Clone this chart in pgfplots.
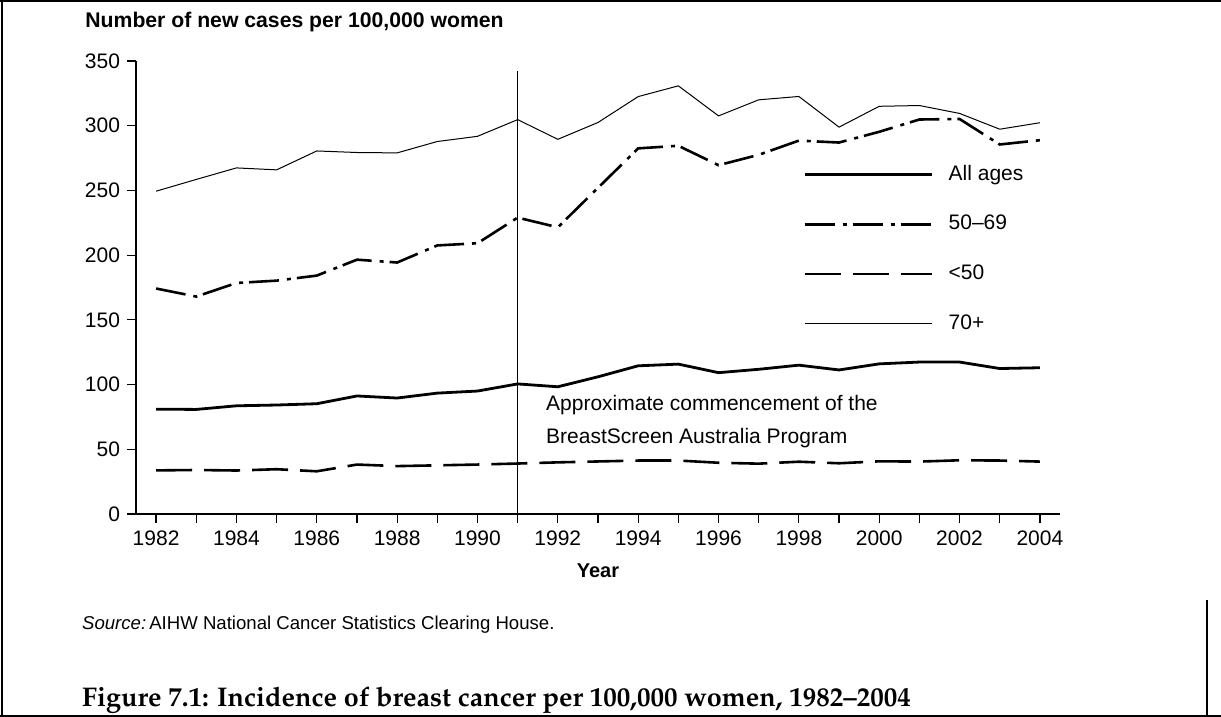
\documentclass[border=0pt]{standalone}
\usepackage[T1]{fontenc}
\usepackage{fontspec}
\setmainfont{Liberation Sans}
\usepackage{pgfplots}
\usepackage{pgfplotstable}
\pgfplotsset{compat=1.18}

% Incidence of breast cancer per 100,000 women, by age group
\pgfplotstableread{
year allages a5069 under50 over70
1982  81.0 174.2 33.7 249.4
1983  80.8 168.0 34.0 258.5
1984  83.6 178.5 33.6 267.4
1985  84.2 180.3 34.6 265.9
1986  85.2 184.2 33.0 280.5
1987  91.2 196.5 38.2 279.3
1988  89.6 194.3 37.0 279.0
1989  93.4 207.5 37.6 287.8
1990  95.0 209.2 38.2 291.8
1991 100.5 229.0 39.0 304.7
1992  98.3 221.5 39.9 289.5
1993 106.0 252.0 40.6 302.5
1994 114.5 282.5 41.3 322.5
1995 115.8 284.5 41.3 330.8
1996 109.2 269.5 39.6 307.6
1997 111.8 277.5 38.9 320.0
1998 115.0 288.5 40.4 322.6
1999 111.3 287.0 39.2 298.9
2000 116.0 295.3 40.7 315.0
2001 117.4 304.8 40.5 315.6
2002 117.4 305.2 41.5 309.5
2003 112.4 285.5 41.3 297.3
2004 113.0 288.8 40.5 302.3
}\incidence

\begin{document}
\begin{tikzpicture}[x=0.5pt,y=0.5pt]
\useasboundingbox (0,0) rectangle (1221,-717);

% page frame
\draw[line width=1pt] (1.5,0) -- (1.5,-717);
\draw[line width=1pt] (0,-1) -- (1221,-1);
\draw[line width=0.8pt] (0,-716) -- (1221,-716);
\draw[line width=0.8pt] (1207,-600) -- (1207,-717);

\node[anchor=base west, inner sep=0pt, font=\fontsize{10.6}{12}\selectfont\bfseries]
  at (85,-27.3) {Number of new cases per 100,000 women};

\begin{axis}[
  at={(68pt,-257pt)}, anchor=south west,
  scale only axis, width=462pt, height=226.5pt,
  xmin=1981.5, xmax=2004.5, ymin=0, ymax=350,
  axis lines=left,
  axis line style={-, line width=0.9pt},
  clip=false,
  xtick={1982,1984,...,2004},
  minor xtick={1983,1985,...,2003},
  ytick={0,50,...,350},
  tick align=outside,
  major tick length=4.5pt, minor tick length=4.5pt,
  every tick/.style={black, line width=0.6pt},
  /pgf/number format/assume math mode=true,
  x tick label style={/pgf/number format/1000 sep=, font=\fontsize{10.5}{12}\selectfont, yshift=-0.5pt},
  y tick label style={font=\fontsize{10.5}{12}\selectfont},
  xlabel={Year},
  every axis x label/.style={at={(axis description cs:0.5,0)}, anchor=base,
    yshift=-31.6pt, font=\fontsize{10}{12}\selectfont\bfseries},
  legend image code/.code={\draw[#1] (0pt,0pt) -- (63.5pt,0pt);},
  legend cell align=left,
  legend style={at={(axis cs:1998.10,204.6)}, anchor=west, draw=none, fill=none,
    inner sep=0pt, row sep=15.3pt, column sep=7.8pt,
    font=\fontsize{10.5}{12}\selectfont,
    nodes={inner sep=0pt, text height=7.5pt, text depth=2pt}},
]
\addplot[black, line width=1.4pt] table[x=year, y=allages] {\incidence};
\addplot[black, line width=1.3pt, dash pattern=on 15pt off 4pt on 2pt off 3pt] table[x=year, y=a5069] {\incidence};
\addplot[black, line width=1.3pt, dash pattern=on 18pt off 6pt] table[x=year, y=under50] {\incidence};
\addplot[black, line width=0.5pt] table[x=year, y=over70] {\incidence};
\legend{All ages, 50–69, <50, 70+}

% screening programme start
\addplot[black, line width=0.8pt, forget plot] coordinates {(1991,0) (1991,342)};
\node[anchor=base west, inner sep=0pt, font=\fontsize{10.5}{12}\selectfont]
  at (axis cs:1991.70,80.35) {Approximate commencement of the};
\node[anchor=base west, inner sep=0pt, font=\fontsize{10.5}{12}\selectfont]
  at (axis cs:1991.70,54.1) {BreastScreen Australia Program};
\end{axis}

\node[anchor=base west, inner sep=0pt, font=\fontsize{9.3}{11}\selectfont]
  at (81.7,-629.3) {\textit{Source:}\,AIHW National Cancer Statistics Clearing House.};

\node[anchor=base west, inner sep=0pt]
  at (81.7,-706) {\fontencoding{T1}\fontfamily{ppl}\fontseries{b}\fontsize{13.5}{16}\selectfont Figure 7.1: Incidence of breast cancer per 100,000 women, 1982--2004};
\end{tikzpicture}
\end{document}
